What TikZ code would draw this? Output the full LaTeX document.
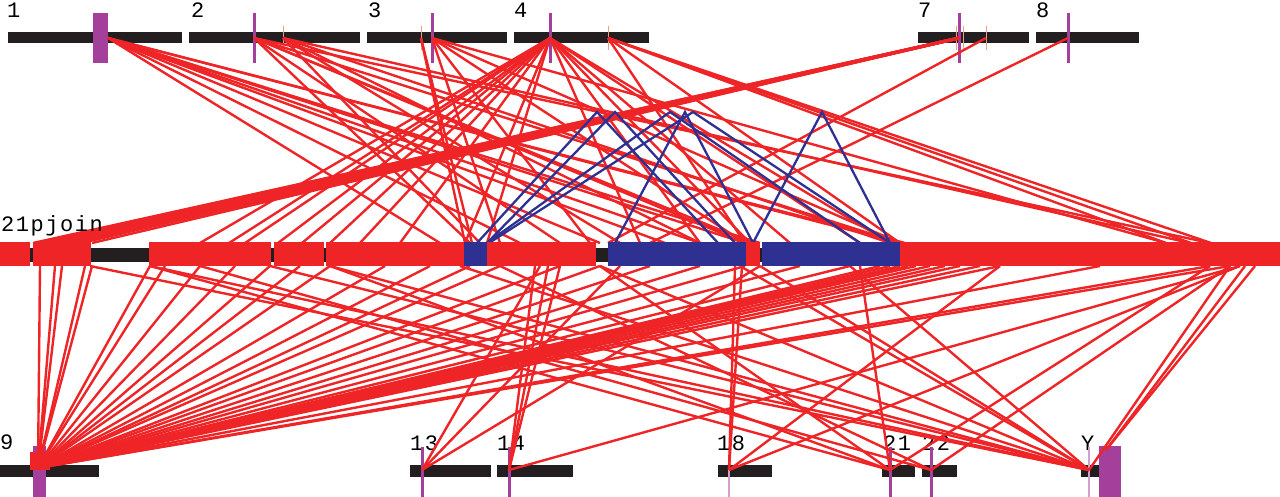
\documentclass[tikz,border=0pt]{standalone}
\usepackage{fontspec}
\newfontfamily\mono{Liberation Mono}
\newfontfamily\monosp[LetterSpace=7]{Liberation Mono}
\definecolor{lred}{RGB}{238,36,38}
\definecolor{lblue}{RGB}{46,49,146}
\definecolor{lpurp}{RGB}{164,64,156}
\definecolor{lblk}{RGB}{35,31,32}
\definecolor{lorng}{RGB}{236,160,130}
\begin{document}
\begin{tikzpicture}[x=1pt,y=-1pt,
  chrbar/.style={fill=lblk,draw=none},
  purp/.style={fill=lpurp,draw=none},
  ornk/.style={fill=lorng,draw=none},
  rl/.style={draw=lred,line width=2.4pt},
  rlt/.style={draw=lred,line width=3pt},
  bl/.style={draw=lblue,line width=2.3pt},
  toplbl/.style={anchor=base west,inner sep=0pt,font=\mono\fontsize{22}{22}\selectfont},
  botlbl/.style={anchor=base west,inner sep=0pt,font=\monosp\fontsize{22}{22}\selectfont}]
\useasboundingbox (0,0) rectangle (1280,497);
% ---------- top chromosomes ----------
\fill[chrbar] (8,32) rectangle (182,43);
\fill[chrbar] (189,32) rectangle (360,43);
\fill[chrbar] (367,32) rectangle (507,43);
\fill[chrbar] (514,32) rectangle (649,43);
\fill[chrbar] (918,32) rectangle (1029,43);
\fill[chrbar] (1036,32) rectangle (1139,43);
\node[toplbl] (l1) at (7,18) {1};
\node[toplbl] (l2) at (191,18) {2};
\node[toplbl] (l3) at (368,18) {3};
\node[toplbl] (l4) at (514,18) {4};
\node[toplbl] (l7) at (918,18) {7};
\node[toplbl] (l8) at (1036,18) {8};
\fill[purp] (93,13) rectangle (108,63);
\fill[purp] (252.5,13) rectangle (255.5,63);
\fill[purp] (431,13) rectangle (434,63);
\fill[purp] (549,13) rectangle (552,63);
\fill[purp] (957.5,13) rectangle (960.5,63);
\fill[purp] (1067,13) rectangle (1070,63);
\fill[ornk] (282.5,26) rectangle (283.7,50);
\fill[ornk] (420.5,26) rectangle (421.7,50);
\fill[ornk] (607.5,26) rectangle (608.7,50);
\fill[ornk] (955.5,26) rectangle (956.5,50);
\fill[ornk] (963,26) rectangle (964,50);
\fill[ornk] (985.5,26) rectangle (986.7,50);
\coordinate (c1) at (108,38);
\coordinate (c2a) at (254,38);
\coordinate (c2b) at (283,38);
\coordinate (c3a) at (421,38);
\coordinate (c3b) at (432,38);
\coordinate (c4a) at (550,38);
\coordinate (c4b) at (608,38);
\coordinate (c7a) at (959,38);
\coordinate (c7b) at (986,38);
\coordinate (c8) at (1068,38);
% ---------- bottom chromosomes ----------
\fill[chrbar] (0,465) rectangle (99,477);
\fill[chrbar] (410,465) rectangle (491,477);
\fill[chrbar] (497,465) rectangle (573,477);
\fill[chrbar] (718,465) rectangle (772,477);
\fill[chrbar] (882,465) rectangle (915,477);
\fill[chrbar] (922,465) rectangle (957,477);
\fill[chrbar] (1081,465) rectangle (1100,477);
\node[toplbl] (l9) at (0,449) {9};
\node[botlbl] (l13) at (410,450) {13};
\node[botlbl] (l14) at (497,450) {14};
\node[botlbl] (l18) at (717,450) {18};
\node[botlbl] (l21) at (883,450) {21};
\node[botlbl] (l22) at (922,450) {22};
\node[botlbl] (lY) at (1081,450) {Y};
\fill[purp] (33,446) rectangle (46,497);
\fill[purp] (421,447) rectangle (423.5,497);
\fill[purp] (508,447) rectangle (510.5,497);
\fill[lpurp!50] (728,470) rectangle (730,497);
\fill[purp] (889,447) rectangle (891.5,497);
\fill[purp] (930,447) rectangle (932.5,497);
\fill[lpurp!50] (1088,447) rectangle (1089.5,497);
\fill[purp] (1099,446) rectangle (1121,497);
\fill[lred] (30,452) rectangle (50,470);
\coordinate (b9) at (38,468);
\coordinate (b13) at (422,470);
\coordinate (b14) at (509,470);
\coordinate (b18) at (729,470);
\coordinate (b21) at (890,470);
\coordinate (b22) at (931,470);
\coordinate (bY) at (1089,470);
\coordinate (bYb) at (1106,450);
% ---------- upper red connectors ----------
\foreach \s/\t in {c1/440,c1/520,c1/600,c1/665,c1/700,c1/745,c1/760,c1/900,c1/905,
  c2a/470,c2a/560,c2a/745,c2a/752,c2a/900,c2a/1210,
  c2b/480,c2b/620,c2b/700,c2b/890,c2b/1190,
  c3a/465,c3a/472,
  c3b/500,c3b/590,c3b/745,c3b/900,c3b/1166,
  c4a/200,c4a/229,c4a/245,c4a/278,c4a/302,c4a/330,c4a/360,c4a/400,c4a/465,c4a/487,
  c4a/640,c4a/700,c4a/750,c4a/790,c4a/860,c4a/890,
  c4b/745,c4b/900,c4b/1166,c4b/1191,c4b/1211,
  c7a/33,c7a/92,c7b/608,c8/650}
{\coordinate (u\t) at (\t,243); \draw[rl] (\s) -- (u\t);}
\foreach \t in {38,45,52,59,66,73,80}
{\coordinate (w\t) at (\t,243); \draw[rlt] (c7a) -- (w\t);}
% ---------- lower red connectors ----------
\foreach \s/\t in {40/b9,55/b9,62/b9,85/b9,92/b9,150/b9,165/b9,200/b9,235/b9,270/b9,
  300/b9,330/b9,385/b9,430/b9,470/b9,500/b9,560/b9,600/b9,650/b9,700/b9,745/b9,800/b9,
  850/b9,880/b9,890/b9,900/b9,908/b9,916/b9,930/b9,945/b9,960/b9,980/b9,1000/b9,
  1100/b9,1210/b9,1230/b9,
  540/b13,620/b13,760/b13,
  535/b14,548/b14,560/b14,1240/b14,
  735/b18,742/b18,1000/b18,1240/b18,
  150/b21,330/b21,600/b21,860/b21,1210/b21,
  200/b22,500/b22,1230/b22,
  90/bY,150/bY,270/bY,330/bY,460/bY,600/bY,740/bY,760/bY,850/bY,1230/bY,
  1245/bYb,1255/bYb}
{\coordinate (d\s) at (\s,266); \draw[rl] (d\s) -- (\t);}
% ---------- blue connectors ----------
\coordinate (a1) at (597,112);
\coordinate (a2) at (615,112);
\coordinate (a3) at (670,112);
\coordinate (a4) at (685,112);
\coordinate (a5) at (693,112);
\coordinate (a6) at (822,112);
\foreach \a/\l/\r in {a1/477/718,a2/487/735,a3/487/860,a4/615/753,a5/489/890,a6/753/890}
{\coordinate (fl\a) at (\l,243); \coordinate (fr\a) at (\r,243);
 \draw[bl,line join=miter] (fl\a) -- (\a) -- (fr\a);}
% ---------- middle contig ----------
\fill[lblk] (0,248) rectangle (1280,262);
\fill[lred] (0,242) rectangle (30,266);
\fill[lred] (33,242) rectangle (91,266);
\fill[lred] (149,242) rectangle (271,266);
\fill[lred] (274,242) rectangle (324,266);
\fill[lred] (326,242) rectangle (464,266);
\fill[lblue] (464,242) rectangle (487,266);
\fill[lred] (487,242) rectangle (596,266);
\fill[lblue] (608,242) rectangle (746,266);
\fill[lred] (746,242) rectangle (760,266);
\fill[lblue] (762,242) rectangle (900,266);
\fill[lred] (900,242) rectangle (1280,266);
\node[anchor=base west,inner sep=0pt,font=\monosp\fontsize{22}{22}\selectfont] (lc) at (1,232) {21pjoin};
\end{tikzpicture}
\end{document}
